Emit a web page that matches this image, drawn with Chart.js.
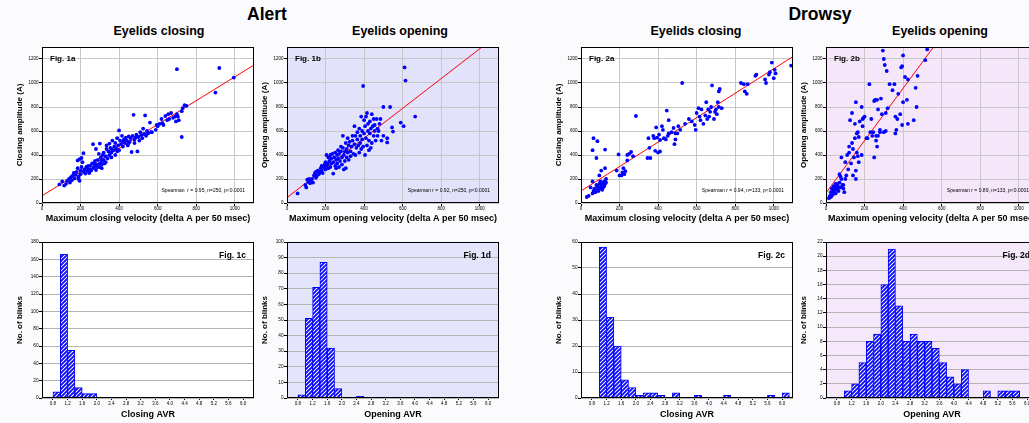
<!DOCTYPE html>
<html><head><meta charset="utf-8">
<script src="https://cdn.jsdelivr.net/npm/chart.js@4.4.1/dist/chart.umd.min.js"></script>
<style>
html,body{margin:0;padding:0;background:#fbfbfe;overflow:hidden;width:1029px;height:423px;position:relative;}
.h{position:absolute;font-family:"Liberation Sans",Arial,sans-serif;font-weight:bold;color:#000;white-space:nowrap;transform:translateX(-50%);line-height:1;}
</style></head><body>
<div class="h" style="left:267px;top:6px;font-size:17.5px">Alert</div>
<div class="h" style="left:820px;top:6px;font-size:17.5px">Drowsy</div>
<div class="h" style="left:159px;top:24.5px;font-size:12.5px">Eyelids closing</div>
<div class="h" style="left:400px;top:24.5px;font-size:12.5px">Eyelids opening</div>
<div class="h" style="left:696px;top:24.5px;font-size:12.5px">Eyelids closing</div>
<div class="h" style="left:940px;top:24.5px;font-size:12.5px">Eyelids opening</div>
<script>
// ---------------- DATA ----------------
const velTicks = [0,200,400,600,800,1000];
const ampTicks = [0,200,400,600,800,1000,1200];
const avrTicks = [0.8,1.2,1.6,2.0,2.4,2.8,3.2,3.6,4.0,4.4,4.8,5.2,5.6,6.0];
// histogram bin centres (bins of width 0.2)
const avrBins = [0.7,0.9,1.1,1.3,1.5,1.7,1.9,2.1,2.3,2.5,2.7,2.9,3.1,3.3,3.5,3.7,3.9,4.1,4.3,4.5,4.7,4.9,5.1,5.3,5.5,5.7,5.9,6.1];

const alertClosingAVR  = [1,7,166,55,12,5,5,0,0,0,0,0,0,0,0,0,0,0,0,0,0,0,0,0,0,0,0,0];
const alertOpeningAVR  = [0,2,51,71,87,32,6,0,0,1,0,0,0,0,0,0,0,0,0,0,0,0,0,0,0,0,0,0];
const drowsyClosingAVR = [0,0,58,31,20,7,4,1,2,2,1,0,2,0,0,1,0,0,0,1,0,0,0,0,0,1,0,2];
const drowsyOpeningAVR = [0,0,1,2,5,8,9,16,21,13,8,9,8,8,7,5,3,2,4,0,0,1,0,1,1,1,0,0];

const alertClosingCountTicks  = [0,20,40,60,80,100,120,140,160,180];
const alertOpeningCountTicks  = [0,10,20,30,40,50,60,70,80,90,100];
const drowsyClosingCountTicks = [0,10,20,30,40,50,60];
const drowsyOpeningCountTicks = [0,2,4,6,8,10,12,14,16,18,20,22];

// scatter points [max velocity, amplitude]
const alertClosing = [
[90,155],[105,180],[115,145],[125,160],[130,185],[140,200],[145,170],[150,215],[155,190],[160,230],
[165,250],[170,205],[175,235],[180,260],[185,290],[190,220],[190,200],[195,185],[200,240],[200,270],
[185,355],[195,365],[205,375],[215,415],[210,340],[205,300],[215,260],[220,280],[225,245],[230,300],
[235,265],[240,280],[245,250],[250,310],[255,270],[260,330],[265,290],[265,490],[270,300],[275,350],
[280,275],[280,450],[285,320],[290,360],[290,300],[295,410],[300,330],[300,495],[305,380],[310,350],
[310,290],[315,400],[320,360],[320,420],[325,330],[330,390],[335,450],[335,480],[340,370],[345,430],
[350,400],[350,495],[355,460],[360,380],[360,420],[365,520],[370,440],[375,470],[380,400],[380,500],
[385,455],[390,540],[395,480],[400,440],[400,605],[405,520],[410,490],[415,560],[420,470],[425,530],
[430,500],[435,545],[440,520],[445,480],[450,555],[455,510],[460,540],[465,425],[470,560],[475,735],
[480,500],[485,545],[490,570],[495,430],[500,550],[505,520],[510,590],[515,565],[520,540],[525,620],
[530,575],[535,730],[540,560],[545,600],[550,580],[560,670],[565,590],[570,590],[590,610],[595,650],
[600,640],[610,660],[620,700],[625,665],[630,650],[640,725],[650,690],[655,740],[660,700],[670,750],
[680,710],[690,720],[695,680],[700,740],[700,1115],[705,720],[710,690],[725,550],[725,765],[730,790],
[740,815],[750,810],[900,920],[920,1125],[995,1045],[240,310],[270,330],[300,300],[330,340],[360,450],
[390,430],[420,510],[450,500],[480,530],[310,320],[280,310],[250,280]
];
const alertOpening = [
[55,80],[95,150],[100,130],[105,195],[110,175],[115,200],[120,165],[125,185],[130,200],[135,170],
[140,230],[145,250],[150,260],[150,210],[155,225],[160,270],[165,240],[170,255],[175,290],[180,310],
[180,270],[185,250],[190,300],[195,320],[200,280],[200,340],[205,310],[205,400],[210,330],[215,290],
[215,380],[220,350],[225,300],[225,400],[230,370],[230,330],[235,410],[240,340],[240,245],[245,380],
[250,310],[250,420],[255,360],[255,290],[260,400],[260,330],[265,440],[265,370],[270,300],[270,410],
[275,350],[280,430],[280,470],[285,320],[285,380],[290,460],[290,560],[295,400],[295,280],[300,350],
[300,430],[305,500],[305,290],[310,380],[310,450],[315,540],[315,420],[320,360],[320,480],[325,510],
[330,430],[330,390],[335,470],[340,520],[340,560],[345,410],[350,490],[350,640],[355,560],[355,400],
[360,460],[365,530],[365,590],[370,480],[375,620],[375,420],[380,560],[380,500],[385,720],[385,450],
[390,600],[390,530],[395,975],[395,470],[400,580],[400,690],[405,400],[405,640],[410,540],[410,720],
[415,750],[415,480],[420,600],[420,660],[425,440],[425,520],[430,680],[430,580],[435,460],[435,620],
[440,740],[440,500],[445,640],[450,560],[450,700],[455,600],[455,650],[460,520],[465,700],[470,620],
[470,560],[475,600],[480,660],[485,700],[490,520],[500,800],[500,560],[520,540],[520,505],[535,800],
[545,630],[550,595],[590,670],[605,640],[610,1130],[615,1020],[665,720]
];
const drowsyClosing = [
[30,50],[40,60],[50,130],[60,80],[60,180],[65,100],[70,120],[75,90],[80,150],[85,110],
[85,140],[90,100],[90,130],[95,160],[95,230],[100,120],[100,180],[105,140],[105,270],[110,110],
[110,150],[115,130],[115,170],[120,140],[120,180],[125,160],[125,290],[130,200],[130,170],[60,440],
[65,540],[85,515],[80,375],[125,445],[185,270],[195,405],[200,230],[210,230],[215,255],[220,290],
[225,240],[230,265],[240,355],[240,400],[250,410],[260,425],[270,390],[285,725],[345,375],[350,540],
[355,460],[360,375],[375,560],[380,540],[385,435],[390,630],[395,545],[400,420],[405,570],[410,430],
[410,525],[420,640],[425,610],[430,540],[440,530],[445,770],[450,560],[455,690],[455,580],[470,590],
[480,625],[485,490],[490,530],[490,580],[500,580],[505,640],[515,610],[525,1000],[540,660],[560,700],
[575,680],[590,650],[595,610],[600,750],[610,790],[615,720],[620,690],[625,780],[635,660],[645,730],
[650,840],[655,700],[660,780],[665,720],[670,760],[675,800],[680,980],[690,700],[695,760],[700,780],
[705,740],[710,840],[715,800],[715,930],[720,950],[730,790],[830,1000],[845,990],[850,930],[860,910],
[865,990],[905,1060],[910,1070],[955,1030],[960,1000],[975,1070],[980,1090],[990,1170],[1000,1040],[1005,1110],
[1010,1080],[1090,1145]
];
const drowsyOpening = [
[15,40],[20,60],[25,90],[30,120],[35,70],[40,100],[40,140],[45,130],[50,80],[50,160],
[55,110],[60,140],[65,100],[70,170],[70,240],[75,130],[80,200],[80,380],[85,150],[90,120],
[95,90],[100,200],[100,340],[105,230],[110,400],[115,280],[120,470],[120,420],[125,690],[130,330],
[135,500],[135,750],[140,230],[140,450],[145,380],[150,660],[150,540],[155,270],[155,840],[155,200],
[160,420],[160,580],[165,590],[165,390],[170,340],[170,550],[175,680],[185,400],[185,800],[190,700],
[190,640],[195,710],[200,720],[210,540],[215,540],[225,990],[230,590],[235,700],[240,560],[245,590],
[250,380],[250,850],[255,860],[260,520],[260,560],[265,470],[265,860],[270,780],[270,560],[280,610],
[280,590],[285,870],[290,740],[295,1270],[300,1200],[300,590],[305,1150],[310,600],[310,750],[315,1100],
[320,790],[330,990],[345,940],[355,990],[360,720],[360,580],[365,610],[370,700],[375,910],[385,740],
[390,1130],[395,1140],[400,1230],[395,650],[400,840],[410,1050],[420,860],[425,660],[425,1030],[455,690],
[465,960],[470,800],[475,1060],[515,1190],[525,1280],[30,60],[45,110],[60,160],[75,220],[90,150],
[55,150],[65,130],[35,100],[25,50]
];
// fitted regression lines (end points, data units)
const alertClosingFit  = [[0,60],[1100,1150]];
const alertOpeningFit  = [[0,45],[1100,1409]];
const drowsyClosingFit = [[0,100],[1100,1220]];
const drowsyOpeningFit = [[0,84],[650,1501]];

// ---------------- RENDERING ----------------
const FONT = '"Liberation Sans", Arial, sans-serif';
Chart.defaults.font.family = FONT;
Chart.defaults.color = '#000';

function hatchPattern(){
  const c = document.createElement('canvas'); c.width = 4; c.height = 4;
  const x = c.getContext('2d');
  x.fillStyle = '#ffffff'; x.fillRect(0,0,4,4);
  x.strokeStyle = '#0a0aff'; x.lineWidth = 1.9;
  x.beginPath();
  x.moveTo(-1,5); x.lineTo(5,-1);
  x.moveTo(-1,1); x.lineTo(1,-1);
  x.moveTo(3,5); x.lineTo(5,3);
  x.stroke();
  return x.createPattern(c,'repeat');
}
const HATCH = hatchPattern();

const panelPlugin = {
  id: 'panel',
  beforeDraw(chart, args, o){
    const {ctx, chartArea:a} = chart;
    ctx.save(); ctx.fillStyle = o.bg; ctx.fillRect(a.left, a.top, a.width, a.height); ctx.restore();
  },
  afterDraw(chart, args, o){
    const {ctx, chartArea:a} = chart;
    ctx.save();
    ctx.strokeStyle = '#000'; ctx.lineWidth = 1;
    ctx.strokeRect(a.left+0.5, a.top+0.5, a.width-1, a.height-1);
    ctx.fillStyle = '#000';
    ctx.textBaseline = 'middle';
    if (o.figAlign === 'left'){
      ctx.font = 'bold 8px ' + FONT; ctx.textAlign = 'left';
      ctx.fillText(o.fig, a.left+8, a.top+12);
    } else {
      ctx.font = 'bold 8.5px ' + FONT; ctx.textAlign = 'right';
      ctx.fillText(o.fig, a.right-8, a.top+13.5);
    }
    if (o.note){
      ctx.font = '5px ' + FONT; ctx.textAlign = 'right';
      ctx.fillText(o.note, a.right-9, a.bottom-12.5);
    }
    ctx.restore();
  }
};

function addCanvas(left, top, w, h){
  const c = document.createElement('canvas');
  c.width = w; c.height = h;
  c.style.cssText = 'position:absolute;left:'+left+'px;top:'+top+'px;width:'+w+'px;height:'+h+'px';
  document.body.appendChild(c);
  return c;
}

function tickSetter(arr){ return s => { s.ticks = arr.map(v => ({value:v})); }; }

function scatterPanel(left, pts, fit, xTitle, yTitle, bg, fig, note){
  const cv = addCanvas(left, 39, 260, 188);
  new Chart(cv, {
    type:'scatter',
    data:{datasets:[
      {data: pts.map(p => ({x:p[0], y:p[1]})), backgroundColor:'#0000ff', borderColor:'#0000ff', borderWidth:0, pointRadius:1.9},
      {data: fit.map(p => ({x:p[0], y:p[1]})), showLine:true, borderColor:'#ff0000', borderWidth:1, pointRadius:0}
    ]},
    options:{
      responsive:false, animation:false, devicePixelRatio:1,
      layout:{padding:{top:8,left:0,right:6,bottom:0}},
      plugins:{legend:{display:false}, tooltip:{enabled:false}, panel:{bg, fig, figAlign:'left', note}},
      scales:{
        x:{type:'linear', min:0, max:1100, afterBuildTicks: tickSetter(velTicks), afterFit: s => { s.height = 24; },
           ticks:{font:{size:4.5}, padding:0.5, maxRotation:0, autoSkip:false, callback: v => String(v)},
           grid:{color:'#c8c8c8', tickColor:'#000', tickLength:3}, border:{display:false},
           title:{display:true, text:xTitle, font:{size:9, weight:'bold'}, padding:{top:0,bottom:2.6}}},
        y:{type:'linear', min:0, max:1300, afterBuildTicks: tickSetter(ampTicks), afterFit: s => { s.width = 42; },
           ticks:{font:{size:4.5}, padding:0.5, autoSkip:false, callback: v => String(v)},
           grid:{color:'#c8c8c8', tickColor:'#000', tickLength:3}, border:{display:false},
           title:{display:true, text:yTitle, font:{size:8, weight:'bold'}, padding:{top:15.2,bottom:0}}}
      }
    },
    plugins:[panelPlugin]
  });
}

function histPanel(left, counts, yTicks, xTitle, bg, fig){
  const cv = addCanvas(left, 234, 260, 189);
  new Chart(cv, {
    type:'bar',
    data:{datasets:[{data: avrBins.map((b,i) => ({x:b, y:counts[i]})), backgroundColor:HATCH, borderColor:'#0000ff', borderWidth:1, barPercentage:1, categoryPercentage:1}]},
    options:{
      responsive:false, animation:false, devicePixelRatio:1,
      layout:{padding:{top:8,left:0,right:6,bottom:0}},
      plugins:{legend:{display:false}, tooltip:{enabled:false}, panel:{bg, fig, figAlign:'right'}},
      scales:{
        x:{type:'linear', min:0.5, max:6.3, offset:false, afterBuildTicks: tickSetter(avrTicks), afterFit: s => { s.height = 25; },
           ticks:{font:{size:4.5}, padding:1, maxRotation:0, autoSkip:false, callback: v => v.toFixed(1)},
           grid:{drawOnChartArea:false, offset:false, tickColor:'#000', tickLength:2}, border:{display:false},
           title:{display:true, text:xTitle, font:{size:9, weight:'bold'}, padding:{top:0,bottom:3.3}}},
        y:{type:'linear', min:0, max:yTicks[yTicks.length-1], afterBuildTicks: tickSetter(yTicks), afterFit: s => { s.width = 42; },
           ticks:{font:{size:4.7}, padding:0.5, autoSkip:false, callback: v => String(v)},
           grid:{color:'#b4b4b4', tickColor:'#000', tickLength:3}, border:{display:false},
           title:{display:true, text:'No. of blinks', font:{size:8, weight:'bold'}, padding:{top:15.2,bottom:0}}}
      }
    },
    plugins:[panelPlugin]
  });
}

scatterPanel(0,   alertClosing,  alertClosingFit,  'Maximum closing velocity (delta A per 50 msec)', 'Closing amplitude (A)', '#ffffff', 'Fig. 1a', 'Spearman  r = 0.95, n=250, p<0.0001');
scatterPanel(245, alertOpening,  alertOpeningFit,  'Maximum opening velocity (delta A per 50 msec)', 'Opening amplitude (A)', '#e2e2fa', 'Fig. 1b', 'Spearman r = 0.92, n=250, p<0.0001');
scatterPanel(539, drowsyClosing, drowsyClosingFit, 'Maximum closing velocity (delta A per 50 msec)', 'Closing amplitude (A)', '#ffffff', 'Fig. 2a', 'Spearman r = 0.94, n=133, p<0.0001');
scatterPanel(784, drowsyOpening, drowsyOpeningFit, 'Maximum opening velocity (delta A per 50 msec)', 'Opening amplitude (A)', '#f6e6fa', 'Fig. 2b', 'Spearman r = 0.89, n=133, p<0.0001');

histPanel(0,   alertClosingAVR,  alertClosingCountTicks,  'Closing AVR', '#ffffff', 'Fig. 1c');
histPanel(245, alertOpeningAVR,  alertOpeningCountTicks,  'Opening AVR', '#e4e4fb', 'Fig. 1d');
histPanel(539, drowsyClosingAVR, drowsyClosingCountTicks, 'Closing AVR', '#ffffff', 'Fig. 2c');
histPanel(784, drowsyOpeningAVR, drowsyOpeningCountTicks, 'Opening AVR', '#f6e8fb', 'Fig. 2d');
</script>
</body></html>
